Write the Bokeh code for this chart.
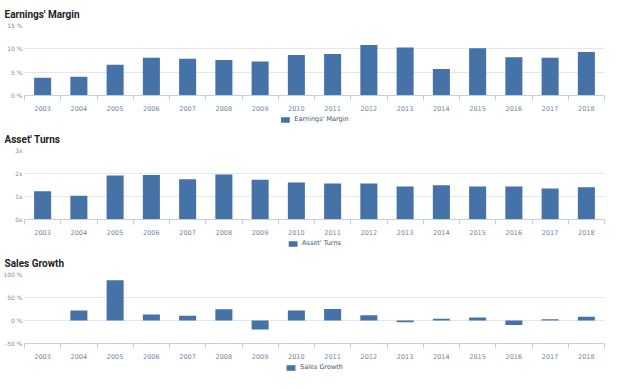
from bokeh.plotting import figure
from bokeh.layouts import column
from bokeh.models import FixedTicker, Range1d, Legend, LegendItem, ColumnDataSource
from bokeh.embed import file_html
from bokeh.resources import INLINE

years = ["2003", "2004", "2005", "2006", "2007", "2008", "2009", "2010",
         "2011", "2012", "2013", "2014", "2015", "2016", "2017", "2018"]

earnings_margin = [3.8, 4.0, 6.6, 8.1, 7.9, 7.6, 7.3, 8.7,
                   8.9, 10.8, 10.3, 5.7, 10.1, 8.2, 8.1, 9.3]
asset_turns = [1.23, 1.03, 1.91, 1.93, 1.75, 1.96, 1.73, 1.61,
               1.57, 1.56, 1.43, 1.49, 1.43, 1.43, 1.35, 1.40]
sales_growth = [float("nan"), 21.5, 87.7, 12.8, 10.1, 24.3, -19.6, 21.5,
                24.9, 11.3, -4.0, 4.0, 6.7, -10.0, 2.6, 8.0]

em_ticks = [0, 5, 10, 15]
em_labels = ["0 %", "5 %", "10 %", "15 %"]
at_ticks = [0, 1, 2, 3]
at_labels = ["0x", "1x", "2x", "3x"]
sg_ticks = [-50, 0, 50, 100]
sg_labels = ["-50 %", "0 %", "50 %", "100 %"]

BAR = "#4572A7"
TITLE_FONT = "Roboto"
FONT = "DejaVu Sans"


def panel(title, values, yticks, ylabels, height):
    n = len(years)
    centers = [i + 0.5 for i in range(n)]
    src = ColumnDataSource(dict(x=centers, top=values, year=years))
    p = figure(width=608, height=height, output_backend="svg", toolbar_location=None,
               x_range=Range1d(0, n), y_range=Range1d(min(yticks), max(yticks)),
               min_border_left=20, min_border_right=4, min_border_top=0, min_border_bottom=0)
    p.title.text = title
    p.title.text_font = TITLE_FONT
    p.title.text_font_size = "10px"
    p.title.text_font_style = "bold"
    p.title.text_color = "#222222"
    p.title.align = "left"
    p.title.offset = -20
    p.title.standoff = 12
    p.outline_line_color = None
    p.vbar(x="x", top="top", bottom=0, width=0.47, source=src,
           fill_color=BAR, line_color=None)
    # x axis
    xa = p.xaxis[0]
    xa.ticker = FixedTicker(ticks=centers, minor_ticks=list(range(n + 1)))
    xa.major_label_overrides = {c: y for c, y in zip(centers, years)}
    xa.major_tick_line_color = None
    xa.major_tick_out = 0
    xa.major_tick_in = 0
    xa.minor_tick_line_color = "#C0D0E0"
    xa.minor_tick_out = 5
    xa.minor_tick_in = 0
    xa.axis_line_color = "#C0D0E0"
    xa.major_label_text_font = FONT
    xa.major_label_text_font_size = "6.5px"
    xa.major_label_text_color = "#6D869F"
    xa.major_label_standoff = 5
    # y axis
    ya = p.yaxis[0]
    ya.ticker = FixedTicker(ticks=yticks)
    ya.major_label_overrides = {t: l for t, l in zip(yticks, ylabels)}
    ya.axis_line_color = None
    ya.major_tick_line_color = None
    ya.major_tick_out = 0
    ya.minor_tick_line_color = None
    ya.major_label_text_font = FONT
    ya.major_label_text_font_size = "6px"
    ya.major_label_text_color = "#8A8A8A"
    ya.major_label_standoff = 2
    p.xgrid.grid_line_color = None
    p.ygrid.grid_line_color = "#E6E6E6"
    p.ygrid.ticker = FixedTicker(ticks=yticks)
    return p


def legend_strip(name, height):
    lp = figure(width=608, height=height, output_backend="svg", toolbar_location=None,
                x_range=Range1d(0, 1), y_range=Range1d(0, 1),
                min_border_left=0, min_border_right=0, min_border_top=0, min_border_bottom=0)
    lp.axis.visible = False
    lp.grid.visible = False
    lp.outline_line_color = None
    # invisible zero-height proxy bar, used only for the legend swatch
    r = lp.vbar(x=[0.5], top=[0], bottom=[0], width=0.01, fill_color=BAR, line_color=None)
    legend = Legend(items=[LegendItem(label=name, renderers=[r])],
                    orientation="horizontal", location="center",
                    border_line_color=None, background_fill_alpha=0,
                    glyph_width=11, glyph_height=7, label_text_font=FONT,
                    label_text_font_size="6.5px", label_text_color="#3E576F",
                    padding=1, margin=0, label_height=8, label_standoff=4)
    lp.add_layout(legend, "center")
    return lp


p1 = panel("Earnings' Margin", earnings_margin, em_ticks, em_labels, 113)
l1 = legend_strip("Earnings' Margin", 12)
p2 = panel("Asset' Turns", asset_turns, at_ticks, at_labels, 112)
l2 = legend_strip("Asset' Turns", 12)
p3 = panel("Sales Growth", sales_growth, sg_ticks, sg_labels, 112)
l3 = legend_strip("Sales Growth", 12)

p = column(p1, l1, p2, l2, p3, l3, spacing=0)
open("out.html", "w").write(file_html(p, INLINE))
